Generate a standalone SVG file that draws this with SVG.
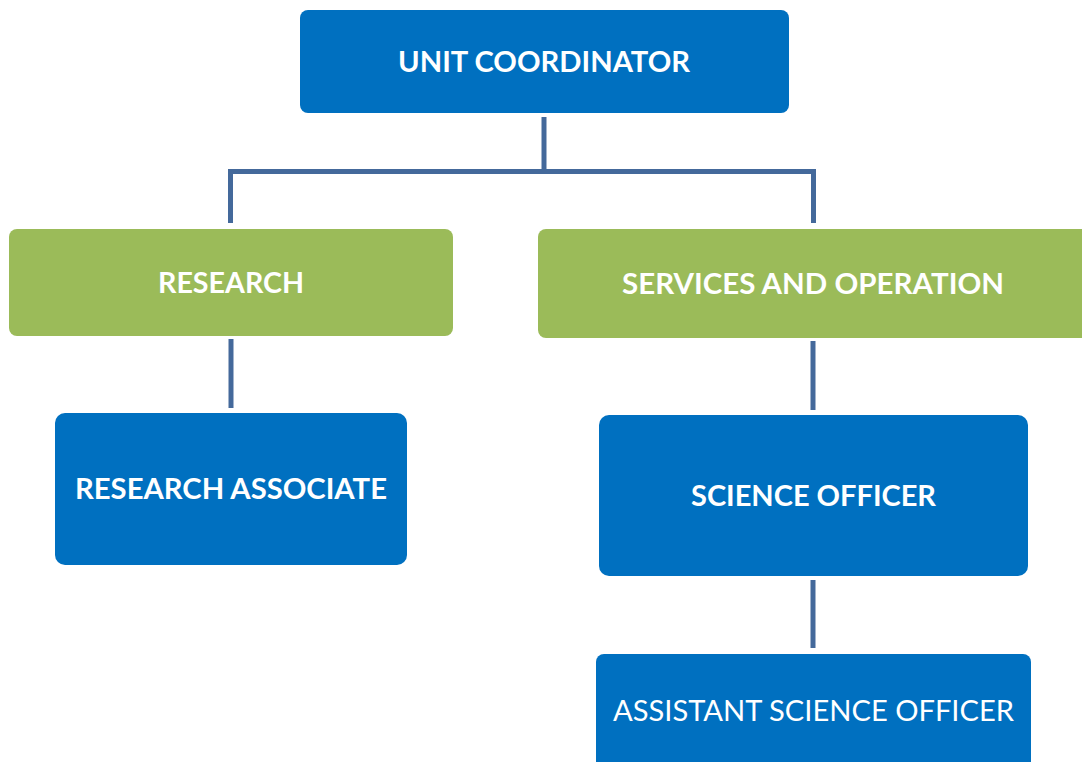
<svg xmlns="http://www.w3.org/2000/svg" width="1082" height="762" viewBox="0 0 1082 762">
<style>
.blue{fill:#0070C0}
.green{fill:#9BBB59}
.lbl{font-family:Lato,"Open Sans","Liberation Sans",sans-serif;font-size:28px;fill:#ffffff;text-anchor:middle}
.b{font-weight:bold}
.conn{fill:none;stroke:#44699B;stroke-width:5}
</style>
<rect width="1082" height="762" fill="#ffffff"/>
<g id="connectors">
<path class="conn" d="M544 117 V171.5"/>
<path class="conn" d="M230.5 223 V171.5 H813.5 V223"/>
<path class="conn" d="M231 339 V408"/>
<path class="conn" d="M813 341 V410"/>
<path class="conn" d="M813 580 V648"/>
</g>
<g id="unit-coordinator">
<rect class="blue" x="300" y="10" width="489" height="103" rx="8"/>
<text class="lbl b" x="544" y="72" textLength="292" lengthAdjust="spacingAndGlyphs">UNIT COORDINATOR</text>
</g>
<g id="research">
<rect class="green" x="9" y="229" width="444" height="107" rx="8"/>
<text class="lbl b" x="231" y="293" textLength="146" lengthAdjust="spacingAndGlyphs">RESEARCH</text>
</g>
<g id="services-and-operation">
<rect class="green" x="538" y="229" width="560" height="109" rx="8"/>
<text class="lbl b" x="813" y="294" textLength="382" lengthAdjust="spacingAndGlyphs">SERVICES AND OPERATION</text>
</g>
<g id="research-associate">
<rect class="blue" x="55" y="413" width="352" height="152" rx="10"/>
<text class="lbl b" x="231" y="499" textLength="312" lengthAdjust="spacingAndGlyphs">RESEARCH ASSOCIATE</text>
</g>
<g id="science-officer">
<rect class="blue" x="599" y="415" width="429" height="161" rx="10"/>
<text class="lbl b" x="813.5" y="506" textLength="245" lengthAdjust="spacingAndGlyphs">SCIENCE OFFICER</text>
</g>
<g id="assistant-science-officer">
<rect class="blue" x="596" y="654" width="435" height="120" rx="8"/>
<text class="lbl" x="813.5" y="721" textLength="401" lengthAdjust="spacingAndGlyphs">ASSISTANT SCIENCE OFFICER</text>
</g>
</svg>
